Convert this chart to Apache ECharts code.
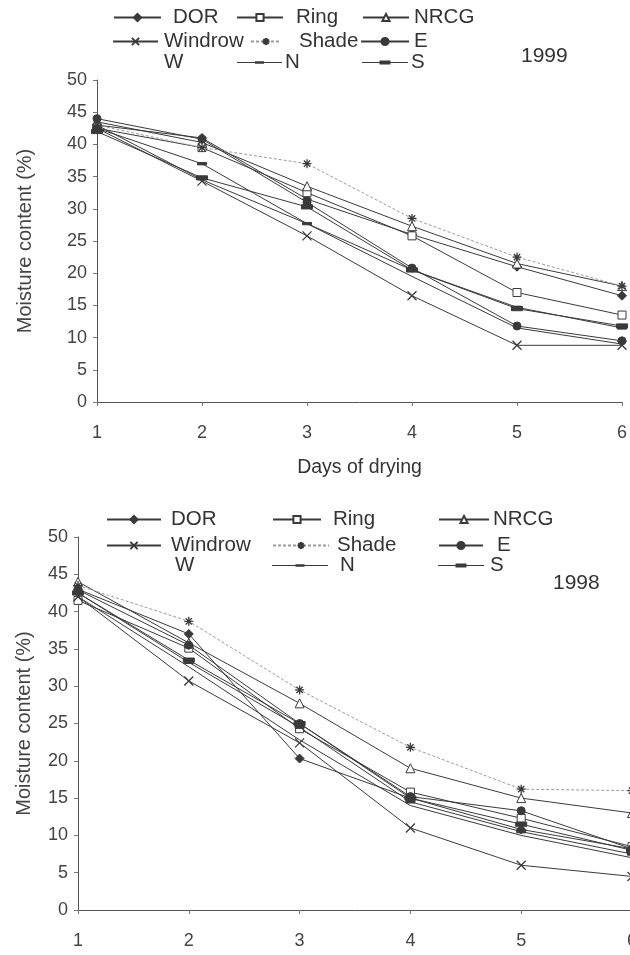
<!DOCTYPE html>
<html><head><meta charset="utf-8">
<script src="https://cdn.jsdelivr.net/npm/echarts@6/dist/echarts.min.js"></script>
<style>html,body{margin:0;padding:0;background:#fff}#c{width:630px;height:955px}</style>
</head><body><div id="c"></div>
<script>
// ---- data ----
var days = [1, 2, 3, 4, 5, 6];
var seriesNames = ['DOR', 'Ring', 'NRCG', 'Windrow', 'Shade', 'E', 'W', 'N', 'S'];
// 1999 (top panel)
var y99_DOR     = [43.0, 41.0, 31.5, 26.0, 21.0, 16.5];
var y99_Ring    = [42.5, 39.5, 32.5, 25.8, 17.0, 13.5];
var y99_NRCG    = [43.5, 40.3, 33.5, 27.3, 21.5, 18.0];
var y99_Windrow = [42.5, 34.3, 25.8, 16.5, 8.8, 8.8];
var y99_Shade   = [43.0, 39.5, 37.0, 28.5, 22.5, 18.0];
var y99_E       = [44.0, 40.8, 31.0, 20.8, 11.8, 9.5];
var y99_W       = [43.0, 34.5, 27.7, 19.5, 11.5, 9.0];
var y99_N       = [42.5, 37.0, 27.7, 20.5, 14.7, 11.5];
var y99_S       = [42.0, 34.8, 30.3, 20.5, 14.5, 11.8];
// 1998 (bottom panel)
var y98_DOR     = [43.0, 37.0, 20.3, 15.0, 10.8, 8.2];
var y98_Ring    = [41.5, 35.1, 24.3, 15.8, 12.3, 8.5];
var y98_NRCG    = [44.0, 35.8, 27.7, 19.0, 15.0, 13.0];
var y98_Windrow = [42.0, 30.7, 22.4, 11.0, 6.0, 4.5];
var y98_Shade   = [43.5, 38.7, 29.5, 21.8, 16.2, 16.0];
var y98_E       = [42.9, 35.5, 25.0, 15.2, 13.3, 8.2];
var y98_W       = [42.0, 32.6, 22.8, 14.0, 10.0, 7.0];
var y98_N       = [42.5, 33.2, 24.5, 14.5, 10.5, 7.5];
var y98_S       = [42.5, 33.5, 25.0, 15.0, 11.5, 8.0];
var yTicks = [0, 5, 10, 15, 20, 25, 30, 35, 40, 45, 50];
var xTitle = 'Days of drying';
var yTitle = 'Moisture content (%)';

var data99 = [y99_DOR, y99_Ring, y99_NRCG, y99_Windrow, y99_Shade, y99_E, y99_W, y99_N, y99_S];
var data98 = [y98_DOR, y98_Ring, y98_NRCG, y98_Windrow, y98_Shade, y98_E, y98_W, y98_N, y98_S];

// ---- styles ----
var INK = '#3a3a3a';
var FONT = 'Liberation Sans, Arial, sans-serif';
var sym = {
  DOR: {symbol: 'diamond', size: 9, fill: INK},
  Ring: {symbol: 'rect', size: 8, fill: '#fff'},
  NRCG: {symbol: 'triangle', size: 9, fill: '#fff'},
  Windrow: {symbol: 'path://M0,0L10,10M10,0L0,10', size: 9, fill: 'none'},
  Shade: {symbol: 'path://M5,0L5,10M0,5L10,5M1.5,1.5L8.5,8.5M8.5,1.5L1.5,8.5', size: 9, fill: 'none'},
  E: {symbol: 'circle', size: 8, fill: INK},
  W: {symbol: 'none', size: 0, fill: INK},
  N: {symbol: 'path://M0,0L10,0L10,2.6L0,2.6Z', size: 9, fill: INK},
  S: {symbol: 'path://M0,0L10,0L10,3.8L0,3.8Z', size: 11, fill: INK}
};

function makeSeries(dataArr, idx) {
  return seriesNames.map(function (nm, i) {
    var s = sym[nm];
    var isShade = nm === 'Shade';
    return {
      name: nm, type: 'line', xAxisIndex: idx, yAxisIndex: idx,
      data: days.map(function (d, j) { return [d, dataArr[i][j]]; }),
      symbol: s.symbol, symbolSize: s.size, symbolKeepAspect: true, showSymbol: nm !== 'W',
      lineStyle: {color: isShade ? '#9a9a9a' : INK, width: 1, type: isShade ? [3, 2] : 'solid'},
      itemStyle: {color: s.fill === 'none' ? 'rgba(0,0,0,0)' : s.fill, borderColor: INK, borderWidth: (nm === 'Windrow' || nm === 'Shade') ? 1.3 : 1},
      emphasis: {disabled: true}, animation: false, z: 2 + i
    };
  });
}

// legend layouts: [name, iconLeft, iconWidth, rowCenterY, textGap]
var leg99 = [
  ['DOR', 113, 47, 18, 12], ['Ring', 236, 46, 18, 13], ['NRCG', 362, 46, 18, 5],
  ['Windrow', 112, 45, 42, 6], ['Shade', 250, 30, 42, 18], ['E', 360, 48, 42, 5],
  ['W', 112, 45, 63, 6], ['N', 237, 45, 63, 3], ['S', 362, 46, 63, 3]
];
var leg98 = [
  ['DOR', 106, 54, 520, 10], ['Ring', 272, 48, 520, 12], ['NRCG', 438, 50, 520, 4],
  ['Windrow', 106, 54, 546, 10], ['Shade', 272, 56, 546, 8], ['E', 438, 44, 546, 14],
  ['W', 106, 54, 566, 14], ['N', 272, 56, 566, 12], ['S', 438, 46, 566, 6]
];

function barIcon(w, bh) {
  var c = w / 2, bw = bh > 3 ? 11 : 9;
  return 'path://M0,4.1H' + w + 'V4.9H0Z M' + (c - bw / 2) + ',' + (4.5 - bh / 2) + 'H' + (c + bw / 2) + 'V' + (4.5 + bh / 2) + 'H' + (c - bw / 2) + 'Z';
}

function makeLegends(lay) {
  return lay.map(function (l) {
    var nm = l[0];
    var item = {name: nm};
    if (nm === 'W') {
      item.itemStyle = {opacity: 0};
      item.lineStyle = {opacity: 0};
    }
    if (nm === 'N') { item.icon = barIcon(l[2], 2.6); item.itemStyle = {color: INK, borderWidth: 0}; }
    if (nm === 'S') { item.icon = barIcon(l[2], 3.8); item.itemStyle = {color: INK, borderWidth: 0}; }
    return {
      data: [item], left: l[1], top: l[3] - 11, itemWidth: l[2], itemHeight: 9,
      padding: 0, selectedMode: false, symbolKeepAspect: true,
      textStyle: {fontFamily: FONT, fontSize: 20.5, color: '#333', padding: [0, 0, 0, l[4] - 5]}
    };
  });
}

function xAx(gi, showName) {
  return {
    type: 'value', gridIndex: gi, min: 1, max: 6, interval: 1,
    name: showName ? xTitle : '', nameLocation: 'middle', nameGap: 56,
    nameTextStyle: {fontFamily: FONT, fontSize: 19.5, color: '#333'},
    axisLine: {show: true, lineStyle: {color: '#555', width: 1}},
    axisTick: {show: true, length: 4, inside: false, lineStyle: {color: '#777'}},
    axisLabel: {fontFamily: FONT, fontSize: 18, color: '#444', margin: 22, showMaxLabel: true},
    splitLine: {show: false}
  };
}
function yAx(gi, gap) {
  return {
    type: 'value', gridIndex: gi, min: 0, max: 50, interval: 5,
    name: yTitle, nameLocation: 'middle', nameGap: gap, nameRotate: 90,
    nameTextStyle: {fontFamily: FONT, fontSize: 20, color: '#444'},
    axisLine: {show: true, lineStyle: {color: '#555', width: 1}},
    axisTick: {show: true, length: 4, lineStyle: {color: '#777'}},
    axisLabel: {fontFamily: FONT, fontSize: 18, color: '#444', margin: 10},
    splitLine: {show: false}
  };
}

var chart = echarts.init(document.getElementById('c'), null, {renderer: 'canvas'});
chart.setOption({
  backgroundColor: '#fff',
  animation: false,
  grid: [
    {left: 97, top: 80, width: 525, height: 322, outerBoundsMode: 'none', containLabel: false},
    {left: 78, top: 537, width: 554, height: 373, outerBoundsMode: 'none', containLabel: false}
  ],
  xAxis: [xAx(0, true), xAx(1, false)],
  yAxis: [yAx(0, 62), yAx(1, 44)],
  legend: makeLegends(leg99).concat(makeLegends(leg98)),
  graphic: [
    {type: 'text', left: 521, top: 46, style: {text: '1999', font: '21px ' + FONT, fill: '#333'}},
    {type: 'text', left: 553, top: 573, style: {text: '1998', font: '21px ' + FONT, fill: '#333'}}
  ],
  series: makeSeries(data99, 0).concat(makeSeries(data98, 1))
});
</script></body></html>
